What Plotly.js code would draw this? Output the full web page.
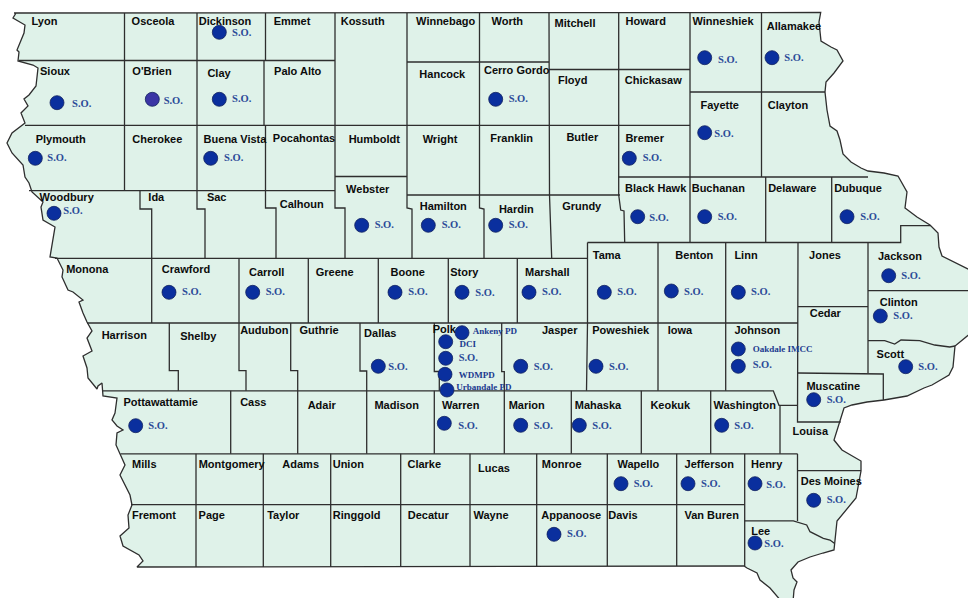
<!DOCTYPE html>
<html><head><meta charset="utf-8">
<script src="https://cdn.plot.ly/plotly-3.0.1.min.js"></script>
<style>html,body{margin:0;padding:0;background:#fff}#map{width:968px;height:598px}</style>
</head><body><div id="map"></div>
<script>
// State outline (pixel grid of the map), clockwise from the NW corner
const outlineX = [14,820.7,819,821,831,837,843,834,826,825,827,830,837,840,843,851,861,868,884,898,907,905,917,930,938,939,942,954,972,972,955,953,949,932,924,907,884,867,852,844,839,834,842,861,861,856,837,834,834,823,810,798,791,793,797,794,793,782,770,760,757,747,744,137,143,139,123,120,129,128,132,130,125,120,125,120,116,117,123,117,112,115,117,103,102,98,97,88,87,83,92,87,92,87,83,79,83,73,68,62,63,57,50,55,43,41,43,32,29,25,23,12,7,12,22,25,21,28,24,29,36,38,33,18,19,17,24,25,13,16,14];
const outlineY = [13,12.5,22,41,47,50,61,73,82,92,110,126,131,140,154,162,168,171,173,176,192,208,217,225,233,247,256,262,271,332,346,367,375,385,388,396,400,402,405,408,423,440,450,461,471,498,521,545,550,553,557,562,570,578,582,590,602,602,588,580,573,568,566,567,561,555,546,536,528,515,505,495,485,475,465,454,445,433,430,426,420,413,398,396,383,386,389,378,368,356,351,338,331,322,313,302,300,292,290,277,270,258,257,227,220,207,202,192,183,177,165,153,143,133,126,123,113,106,99,95,86,68,65,61,52,50,33,25,18,13];

// County boundaries inside the state, each one a polyline
const borders = [
 [[19,60.5],[335,60.5]], [[25,125.3],[690,125.3]], [[29,190.7],[335,190.7]], [[55,258.3],[587,258.3]],
 [[87,323],[798,323]], [[103,390.8],[773.3,390.8],[779,405.3],[797.5,405.3]], [[120.5,453.8],[797.5,453.8]], [[131,504.7],[744.7,504.7]],
 [[124.5,13],[124.5,190.7]],
 [[197,13],[197,190.7],[197,209],[205,209],[205,258.3]],
 [[265.5,13],[265.5,60.5]], [[264,60.5],[264,125.3]], [[265.5,125.3],[265.5,208],[276,208],[276,258.3]],
 [[335,13],[335,208],[345,208],[345,258.3]],
 [[407,13],[407,208],[412,209],[412,258.3]],
 [[479.5,13],[479.5,208],[484,209],[484,258.3]],
 [[407,176.5],[335,176.5]], [[407,195],[620,195]],
 [[407,62],[549,62]],
 [[549,13],[549.5,195],[551.7,258.3]],
 [[618.7,13],[618.7,195],[620.7,210],[624,211],[624.7,242.5]],
 [[549,69.5],[690,69.5]],
 [[690,13],[690,242.5]], [[690,92],[825,92]], [[761.5,13],[761.5,177]],
 [[618.7,177],[868,177]], [[765.7,177],[765.7,242.5]], [[831.7,177],[831.7,242.5]],
 [[587.5,242.5],[900.7,242.5],[900.7,225.7],[930.7,225.7]],
 [[587.5,242.5],[587.5,323],[586.5,390.8]],
 [[658,242.5],[658,390.8]], [[725.7,242.5],[725.7,390.8]],
 [[798,242.5],[797.5,422],[840.7,422]],
 [[868,242.5],[868,373]], [[868,290.7],[972,290.7]], [[798,306.7],[868,306.7]], [[798,373],[883.3,374],[883.3,400]],
 [[868,340.7],[884.7,340.7],[894.7,344],[901,340],[919.7,340.7],[934.7,345],[949.7,347],[955,346]],
 [[140,190.7],[140,209],[151.7,209],[151.7,323]],
 [[239,258.3],[239,370.7],[246,370.7],[246,390.8]],
 [[308.3,258.3],[308.3,323]], [[378.3,258.3],[378.3,323]], [[448.3,258.3],[448.3,323]], [[517.3,258.3],[517.3,323]],
 [[169.3,323],[169.3,370.7],[178.3,370.7],[178.3,390.8]],
 [[290.7,323],[290.7,370.7],[297.7,370.7],[297.7,453.8]],
 [[360,323],[360,371],[366.7,371],[366.7,453.8]],
 [[434.3,323],[434.3,371.5],[439.3,371.5],[439.3,390.8]], [[434.3,390.8],[434.3,453.8]],
 [[501.7,323],[501.7,371.7],[504.3,371.7],[504.3,453.8]],
 [[230.7,390.8],[230.7,453.8]], [[571.3,390.8],[571.3,453.8]], [[641.3,390.8],[641.3,453.8]], [[710.7,390.8],[710.7,453.8]],
 [[780,405.3],[780,453.8]],
 [[797.5,453.8],[797.5,521]], [[797.5,470.7],[861,470.7]],
 [[744.7,453.8],[744.7,566]],
 [[744.7,520.8],[793.3,520.8],[806.7,525],[810,531.7],[823.3,538.3],[830,540],[834.3,543.3]],
 [[196,453.8],[196,567]], [[263.3,453.8],[263.3,567]], [[330.7,453.8],[330.7,567]], [[400.7,453.8],[400.7,567]],
 [[470,453.8],[470,567]], [[536.7,453.8],[536.7,566]], [[607.3,453.8],[607.3,566]], [[676.7,453.8],[676.7,566]]
];

const countyNames = ["Lyon","Osceola","Dickinson","Emmet","Kossuth","Winnebago","Worth","Mitchell","Howard","Winneshiek","Allamakee",
 "Sioux","O'Brien","Clay","Palo Alto","Hancock","Cerro Gordo","Floyd","Chickasaw","Fayette","Clayton",
 "Plymouth","Cherokee","Buena Vista","Pocahontas","Humboldt","Wright","Franklin","Butler","Bremer",
 "Woodbury","Ida","Sac","Calhoun","Webster","Hamilton","Hardin","Grundy","Black Hawk","Buchanan","Delaware","Dubuque",
 "Monona","Crawford","Carroll","Greene","Boone","Story","Marshall","Tama","Benton","Linn","Jones","Jackson","Clinton","Cedar","Scott",
 "Harrison","Shelby","Audubon","Guthrie","Dallas","Polk","Jasper","Poweshiek","Iowa","Johnson",
 "Pottawattamie","Cass","Adair","Madison","Warren","Marion","Mahaska","Keokuk","Washington","Muscatine","Louisa",
 "Mills","Montgomery","Adams","Union","Clarke","Lucas","Monroe","Wapello","Jefferson","Henry","Des Moines",
 "Fremont","Page","Taylor","Ringgold","Decatur","Wayne","Appanoose","Davis","Van Buren","Lee"];
const countyX = [44.5,153,225,292,362.7,445.7,507.3,575,645.7,723,794,
 55,152,219,297.7,442.3,516.7,572.7,653.3,719.7,788,
 60.7,157.3,235,304,374.3,440,511.7,582.3,644.7,
 66.7,156.3,216.7,301.7,367.7,443.3,516.3,581.7,655.7,718.3,792.3,858,
 87.3,186,266.7,334.7,407.7,464.3,547.3,606.7,694.3,746,825,900,898.7,825.3,890.3,
 124.3,198.3,264.3,319,380.3,444.3,559.7,620.7,680,757.3,
 160.7,253.3,321.7,396.7,460.7,526.7,598,670.3,744.7,833.3,810.3,
 144.3,231.7,300.7,348.3,424.3,494,561.7,638.3,709.3,766.7,831.3,
 154,211.7,283.3,356.7,428.3,491,571.3,623,711.7,760.7];
const countyY = [22,22,22,22,22,22,22,24.7,22,22,27,
 72.3,72.3,74.7,72.3,75,71.7,81,81,106,106,
 140.7,140.7,140,139.3,140.7,140.7,139.3,138.3,139.3,
 198.3,198.3,198.3,205.7,190.3,207.7,210,207.7,189.7,189.7,189.7,189.7,
 270.7,270.7,273.3,273.3,273.3,273.3,273.3,256.3,256.3,256.3,256.3,257,303.3,314.7,355.7,
 336,337.7,331.3,331.3,334.7,330.7,331.3,331.3,331.3,331.3,
 403.7,403.3,406.3,406.3,406.3,406.3,406.3,406.3,406.3,387.7,432,
 465.7,465.7,465.7,465.7,465.7,469,465.7,465.7,465.7,465.7,482.3,
 516,516,516,516,516,516,516,516,516,532.7];

// Sheriff's offices and other sites
const siteX = [219.3,57,152.3,219.3,35.3,210.7,54,361.7,428.3,495.7,169,252.7,395,462,529,604.3,671.3,738.3,704.7,772,495.7,704.7,629.3,637.7,704.7,847,888.7,880.3,905.7,813.7,738.3,596,520.7,378.3,445.7,135.7,444.3,520.7,579.3,721.7,621,688,755,813.7,554,755,738.3,462,445.7,445,447];
const siteY = [32.3,102.7,99.3,99.3,158.3,158.3,213.3,225.3,225.3,225.3,292.3,292.3,292.3,292.3,292.3,292.3,291,292.3,57.7,57.7,99.3,132.7,158.3,216.7,216.7,216.7,275.7,316,366.7,399.7,366.3,366.3,366.3,366.3,358.3,425.7,423.3,425.3,425.3,425.3,483.7,483.7,483.7,500.3,534.3,543,349,332.7,341.7,374.3,390];
const soLabelX = [241.7,81.7,173.3,241.7,57,233.7,73,384.3,451.3,518.3,191.7,275.3,418,485,551.7,627,693.7,760.7,727.7,794,518.3,724,652.3,659,727.3,870,911,903,928,836.3,762.3,618.7,543.3,398,468.3,158,468,543.3,602,744,643.3,710.7,776,836.3,576.7,774];
const soLabelY = [33,104,101,99.7,158.7,158.7,211.7,225.7,225.7,225.7,292.7,292.7,292.7,293,292.7,292.7,292.7,292.7,60,58.3,99.7,134.3,158.7,218.3,217,217,276,316.3,367,400.3,365.7,367,367,367,358.7,426,426,426,426,426,484,484,485.3,500.7,534.3,544];
const otherLabels = ["Oakdale IMCC","Ankeny PD","DCI","WDMPD","Urbandale PD"];
const otherLabelX = [782.7,495,467.7,476.7,484];
const otherLabelY = [350,332,344.3,375.3,387.7];

const lineColor = "#2e2e2e", fillColor = "#dff2e9", nameFont = "Liberation Sans, Arial, sans-serif", siteFont = "Liberation Serif, Times New Roman, serif";

const borderX = [], borderY = [];
borders.forEach(b => { b.forEach(p => { borderX.push(p[0]); borderY.push(p[1]); }); borderX.push(null); borderY.push(null); });

const traces = [
 {type:"scatter",mode:"lines",x:outlineX,y:outlineY,fill:"toself",fillcolor:fillColor,line:{color:lineColor,width:1.3},hoverinfo:"skip",name:"Iowa"},
 {type:"scatter",mode:"lines",x:borderX,y:borderY,line:{color:lineColor,width:1.3},hoverinfo:"skip",connectgaps:false,name:"County lines"},
 {type:"scatter",mode:"text",x:countyX,y:countyY,text:countyNames,textposition:"middle center",textfont:{family:nameFont,size:11,color:"#0c0c0c",weight:700},hoverinfo:"text",name:"Counties"},
 {type:"scatter",mode:"markers",x:siteX,y:siteY,marker:{size:14,color:siteX.map((_,i)=>i===2?"#3b35a5":"#0a2f9e"),line:{color:"#13235f",width:0.8}},hoverinfo:"skip",name:"Sites"},
 {type:"scatter",mode:"text",x:soLabelX,y:soLabelY,text:soLabelX.map(()=>"S.O."),textposition:"middle center",textfont:{family:siteFont,size:10.5,color:"#2b4b98",weight:700},hoverinfo:"skip",name:"S.O."},
 {type:"scatter",mode:"text",x:otherLabelX,y:otherLabelY,text:otherLabels,textposition:"middle center",textfont:{family:siteFont,size:9,color:"#1b3a8f",weight:700},hoverinfo:"skip",name:"Other sites"}
];
const hiddenAxis = {visible:false,fixedrange:true,zeroline:false,showgrid:false};
const layout = {width:968,height:598,margin:{l:0,r:0,t:0,b:0},showlegend:false,paper_bgcolor:"#fff",plot_bgcolor:"#fff",
 xaxis:Object.assign({range:[0,968]},hiddenAxis),yaxis:Object.assign({range:[598,0]},hiddenAxis),hovermode:"closest"};
Plotly.newPlot("map",traces,layout,{displayModeBar:false});
</script></body></html>
